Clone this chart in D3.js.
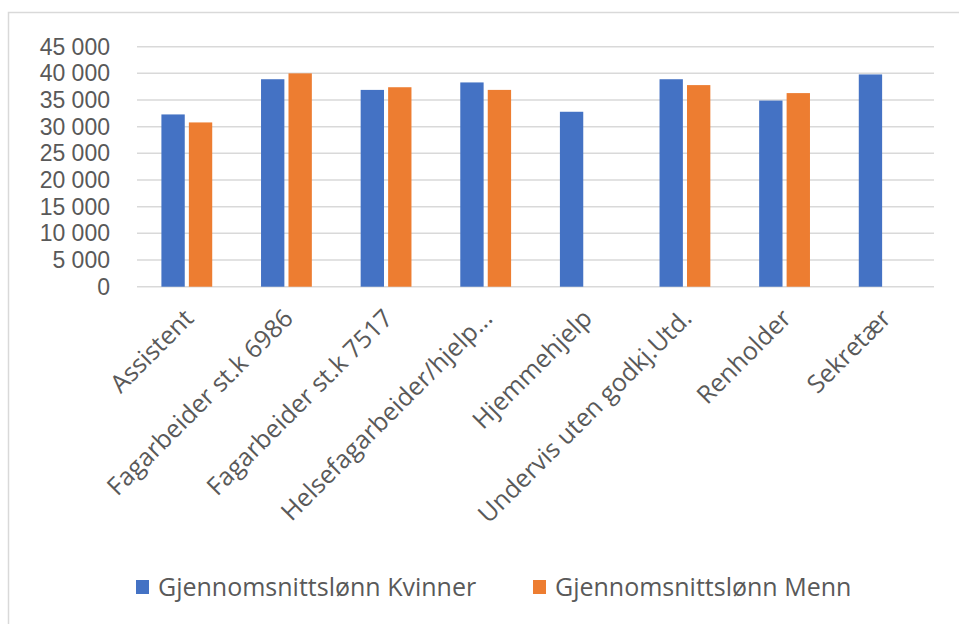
<!DOCTYPE html>
<html>
<head>
<meta charset="utf-8">
<script src="https://cdn.jsdelivr.net/npm/d3@7"></script>
<style>
  body { margin: 0; background: #fff; }
  .chart text { font-family: "Open Sans", sans-serif; fill: #595959; }
  .chart .yaxis text { font-family: "Liberation Sans", Arial, sans-serif; }
</style>
</head>
<body>
<div class="chart"></div>
<script>
// data
var categories = ["Assistent", "Fagarbeider st.k 6986", "Fagarbeider st.k 7517", "Helsefagarbeider/hjelp...",
  "Hjemmehjelp", "Undervis uten godkj.Utd.", "Renholder", "Sekretær"];
var series_names = ["Gjennomsnittslønn Kvinner", "Gjennomsnittslønn Menn"];
var kvinner = [32300, 38900, 36900, 38300, 32800, 38900, 34900, 39800];
var menn = [30800, 40000, 37400, 36900, null, 37800, 36300, null];
var y_ticks = [0, 5000, 10000, 15000, 20000, 25000, 30000, 35000, 40000, 45000];
var colors = ["#4472C4", "#ED7D31"];

var width = 959, height = 624;
var margin_px = { top: 46.7, left: 137, right: 25, bottom: 337.3 };
var inner_width = width - margin_px.left - margin_px.right;
var inner_height = height - margin_px.top - margin_px.bottom;
var font_size = 25;

var svg = d3.select(".chart").append("svg")
  .attr("width", width)
  .attr("height", height);

// chart frame (runs off the right and bottom edge)
svg.append("rect")
  .attr("x", 8.5).attr("y", 12.5)
  .attr("width", 980).attr("height", 640)
  .attr("fill", "none")
  .attr("stroke", "#d9d9d9")
  .attr("stroke-width", 1.5);

var g = svg.append("g")
  .attr("transform", "translate(" + margin_px.left + "," + margin_px.top + ")");

var x0 = d3.scaleBand()
  .domain(categories)
  .range([0, inner_width])
  .paddingInner(0.49)
  .paddingOuter(0.245);

var x1 = d3.scaleBand()
  .domain(series_names)
  .range([0, x0.bandwidth()])
  .paddingInner(0.15);

var y_scale = d3.scaleLinear()
  .domain([0, 45000])
  .range([inner_height, 0]);

var nb = d3.formatLocale({ decimal: ",", thousands: "\u00a0", grouping: [3], currency: ["", ""] });
var fmt = nb.format(",d");

// gridlines
g.selectAll(".grid")
  .data(y_ticks)
  .enter()
  .append("line")
    .attr("class", "grid")
    .attr("x1", 0).attr("x2", inner_width)
    .attr("y1", d => y_scale(d)).attr("y2", d => y_scale(d))
    .attr("stroke", "#d9d9d9")
    .attr("stroke-width", 1.5);

// y axis labels
var y_axis = g.append("g")
  .attr("class", "yaxis")
  .call(d3.axisLeft(y_scale).tickValues(y_ticks).tickFormat(fmt).tickSize(0).tickPadding(27));
y_axis.select(".domain").remove();
y_axis.selectAll("text")
  .attr("font-size", 23)
  .attr("font-family", null)
  .attr("fill", null);

// bars
var rows = categories.map((c, i) => ({ cat: c, values: [kvinner[i], menn[i]] }));
var groups = g.selectAll(".cat")
  .data(rows)
  .enter()
  .append("g")
    .attr("class", "cat")
    .attr("transform", d => "translate(" + x0(d.cat) + ",0)");

groups.selectAll("rect")
  .data(d => d.values.map((v, j) => ({ name: series_names[j], value: v, j: j })).filter(e => e.value != null))
  .enter()
  .append("rect")
    .attr("x", d => x1(d.name))
    .attr("y", d => y_scale(d.value))
    .attr("width", x1.bandwidth())
    .attr("height", d => inner_height - y_scale(d.value))
    .attr("fill", d => colors[d.j]);

// x axis labels, rotated
g.selectAll(".xlab")
  .data(categories)
  .enter()
  .append("text")
    .attr("class", "xlab")
    .attr("font-size", font_size)
    .attr("text-anchor", "end")
    .attr("transform", d => "translate(" + (x0(d) + x0.bandwidth() / 2 + 2) + "," + (inner_height + 27) + ") rotate(-45)")
    .attr("dy", "0.35em")
    .text(d => d);

// legend
var legend_x = [136, 533];
var legend = svg.selectAll(".legend")
  .data(series_names)
  .enter()
  .append("g")
    .attr("class", "legend")
    .attr("transform", (d, i) => "translate(" + legend_x[i] + ",580)");
legend.append("rect")
  .attr("width", 13).attr("height", 14)
  .attr("fill", (d, i) => colors[i]);
legend.append("text")
  .attr("x", 22).attr("y", 7)
  .attr("dy", "0.35em")
  .attr("font-size", font_size)
  .text(d => d);
</script>
</body>
</html>
